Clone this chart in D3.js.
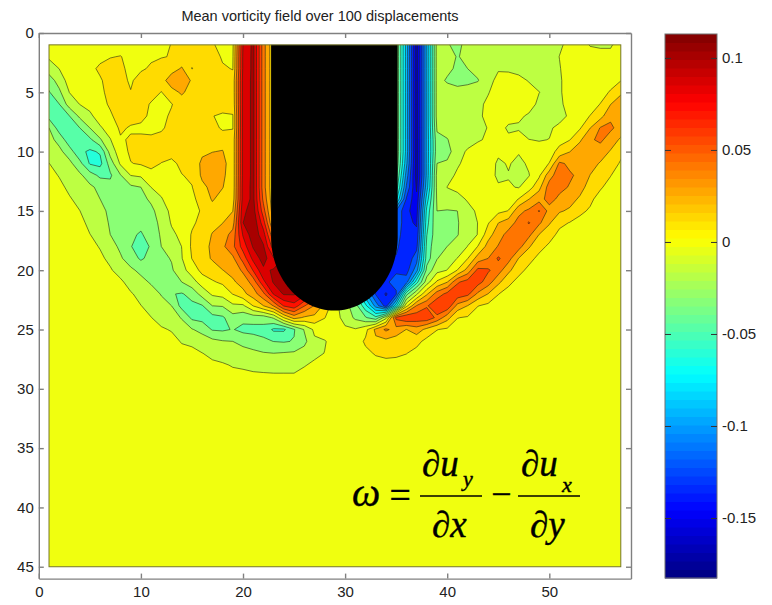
<!DOCTYPE html>
<html>
<head>
<meta charset="utf-8">
<script src="https://cdn.jsdelivr.net/npm/d3@7"></script>
<style>
	html, body {margin: 0; padding: 0; background: #fff;}
	text {font-family: "Liberation Sans", Arial, sans-serif; fill: #222;}
	.c-axis path, .c-axis line {stroke: #808080; stroke-width: 1.4px; fill: none;}
	.c-axis text {font-size: 15px;}
	.c-bar-axis line {stroke: #333; stroke-width: 1px;}
	.c-bar-axis path {display: none;}
	.c-bar-axis text {font-size: 15px;}
	.c-formula text {font-family: "Liberation Serif", "Times New Roman", serif; font-style: italic; fill: #000; stroke: #000; stroke-width: 0.4px;}
</style>
</head>
<body>
<svg id="chart" width="772" height="605"></svg>
<script>
var chartTitle = "Mean vorticity field over 100 displacements";
var xTicks = [0, 10, 20, 30, 40, 50];
var yTicks = [0, 5, 10, 15, 20, 25, 30, 35, 40, 45];
var barTicks = [0.1, 0.05, 0, -0.05, -0.1, -0.15];

var zMin = -0.1826;
var zMax = 0.113;
var contourCount = 20;
var colorCount = 64;

var gridWidth = 57;
var gridHeight = 45;

//Cylinder outline in grid units
var cylinderX = 28.95;
var cylinderR = 6.2;
var cylinderCapY = 17.2;

//Vorticity x 1000, one list per x = 1..57, starting at y = 1.
//A list that stops early is flat zero from there down.
var col01 = [2,-3,-13,-27,-36,-44,-40,-20,-15,-10,-5,-1,0];
var col02 = [3,2,-5,-14,-23,-35,-44,-42,-25,-16,-11,-6,-2,0];
var col03 = [3,4,3,1,-5,-13,-35,-44,-44,-28,-16,-12,-8,-4,-1,0];
var col04 = [3,4,4,3,1,-5,-17,-35,-44,-46,-30,-17,-13,-9,-5,-2,0];
var col05 = [3,5,6,4,3,-1,-8,-20,-38,-52,-51,-28,-17,-14,-11,-8,-5,-2,0];
var col06 = [3,6,12,8,7,6,1,-7,-22,-48,-54,-38,-24,-20,-16,-12,-9,-6,-3,-1,0];
var col07 = [3,9,14,15,13,11,8,1,-6,-14,-28,-37,-30,-24,-23,-22,-20,-14,-8,-4,-1,0];
var col08 = [4,10,13,13,15,15,14,12,8,3,-3,-21,-24,-26,-28,-27,-25,-23,-18,-10,-3,0];
var col09 = [7,6,5,8,10,12,15,8,11,12,9,-5,-23,-27,-30,-32,-33,-34,-28,-17,-10,-4,0];
var col10 = [5,6,8,14,15,16,13,7,12,16,11,-3,-20,-25,-28,-32,-36,-42,-37,-24,-15,-9,-5,-1,0];
var col11 = [5,8,11,16,16,8,7,6,12,17,15,3,-5,-17,-24,-27,-30,-33,-30,-27,-22,-13,-9,-5,-2,0];
var col12 = [6,9,14,17,9,7,7,8,13,17,9,2,-2,-6,-12,-16,-18,-20,-24,-29,-29,-21,-15,-9,-4,-1,0];
var col13 = [10,10,17,34,18,9,11,13,15,15,6,4,2,0,-2,-4,-8,-16,-19,-22,-30,-34,-20,-14,-6,-2,0];
var col14 = [13,14,26,36,27,15,15,15,16,16,13,9,7,5,2,0,-2,-5,-6,-10,-20,-36,-40,-21,-14,-6,-2,0];
var col15 = [14,15,9,22,17,17,16,16,17,18,16,12,9,7,5,7,11,12,10,1,-11,-30,-38,-38,-19,-8,-2,0];
var col16 = [15,15,17,18,18,18,17,17,19,22,27,27,21,14,11,14,18,19,18,14,1,-14,-36,-40,-25,-12,-5,-1,0];
var col17 = [11,15,18,19,19,18,10,15,20,24,30,33,28,26,18,21,25,27,26,17,8,-3,-20,-40,-36,-16,-8,-3,0];
var col18 = [5,8,11,18,19,17,7,7,19,25,30,28,25,18,20,24,31,36,33,24,12,0,-19,-37,-37,-19,-10,-4,-1];
var col19 = [7,8,9,14,14,13,9,9,14,14,14,14,14,16,24,32,45,50,36,29,22,10,-8,-26,-34,-20,-12,-6,-2];
var col20 = [84,86,86,88,88,88,88,88,88,88,88,88,90,90,95,98,85,75,60,42,30,20,-8,-30,-39,-24,-15,-7,-2];
var col21 = [102,102,102,102,102,102,102,102,102,102,102,102,102,102,105,110,108,100,88,70,45,32,10,-28,-40,-27,-17,-8,-3];
var col22 = [45,45,45,45,45,45,45,45,45,45,45,45,45,50,60,75,90,100,105,95,80,50,24,-28,-40,-32,-19,-9,-3];
var col23 = [12,12,12,12,12,12,12,12,12,12,12,12,12,12,14,20,40,60,85,100,100,85,40,-18,-52,-35,-20,-10,-3];
var col24 = [0,0,0,0,0,0,0,0,0,0,0,0,0,0,0,0,60,90,100,100,100,100,70,10,-52,-36,-19,-10,-3];
var col25 = [0,0,0,0,0,0,0,0,0,0,0,0,0,0,0,0,60,90,100,100,100,100,78,30,-36,-34,-18,-10,-3];
var col26 = [0,0,0,0,0,0,0,0,0,0,0,0,0,0,0,0,60,80,90,95,95,90,55,22,-19,-24,-14,-6,-1];
var col27 = [0,0,0,0,0,0,0,0,0,0,0,0,0,0,0,0,40,60,70,70,70,70,38,20,-2,-8,-8,-3,0];
var col28 = [0,0,0,0,0,0,0,0,0,0,0,0,0,0,0,0,20,30,30,30,30,30,20,10,1,-6,-5,-1,0];
var col29 = [0,0,0,0,0,0,0,0,0,0,0,0,0,0,0,0,0,0,0,0,0,0,0,0,0,-1,0];
var col30 = [0,0,0,0,0,0,0,0,0,0,0,0,0,0,0,0,-10,-10,-10,-10,-10,-15,-15,-10,-3,0,0];
var col31 = [0,0,0,0,0,0,0,0,0,0,0,0,0,0,0,0,-60,-60,-60,-60,-60,-50,-28,-23,-4,1,0];
var col32 = [0,0,0,0,0,0,0,0,0,0,0,0,0,0,0,0,-100,-100,-100,-100,-100,-90,-60,-33,5,12,6,1,0];
var col33 = [0,0,0,0,0,0,0,0,0,0,0,0,0,0,0,0,-125,-125,-125,-125,-125,-125,-100,-45,28,21,11,4,0];
var col34 = [0,0,0,0,0,0,0,0,0,0,0,0,0,0,0,0,-125,-125,-125,-125,-125,-140,-130,-10,42,20,13,5,1];
var col35 = [-20,-20,-20,-20,-20,-20,-20,-20,-20,-20,-22,-30,-40,-60,-110,-110,-115,-120,-125,-125,-120,-125,-70,58,33,17,12,5,1];
var col36 = [-85,-85,-85,-85,-85,-85,-85,-85,-85,-85,-90,-100,-110,-125,-135,-135,-135,-135,-135,-130,-115,-40,5,68,24,15,10,3,0];
var col37 = [-160,-160,-160,-160,-160,-160,-160,-160,-160,-160,-160,-160,-155,-150,-145,-140,-135,-128,-115,-100,-55,-8,40,64,32,14,5,1,0];
var col38 = [-90,-90,-90,-90,-90,-90,-90,-90,-90,-90,-90,-90,-85,-72,-60,-55,-50,-45,-42,-30,-12,22,52,65,20,5,1,0];
var col39 = [-14,-14,-14,-14,-14,-14,-14,-18,-24,-25,-20,-15,-16,-18,-20,-22,-24,-22,-21,-10,12,46,66,50,10,2,0];
var col40 = [-19,-14,-16,-22,-13,-12,-12,-13,-21,-27,-17,-10,-5,-10,-21,-28,-28,-20,-10,-5,24,58,66,30,7,2,0];
var col41 = [-23,-21,-23,-26,-14,-13,-12,-11,-10,-9,-7,-3,0,-12,-20,-21,-21,-12,-5,10,52,64,34,10,3,0];
var col42 = [-16,-16,-20,-24,-13,-12,-11,-11,-9,-4,-1,1,2,-3,-12,-13,-9,-5,9,30,60,58,24,8,2,0];
var col43 = [-13,-13,-15,-21,-11,-8,-7,-7,-7,2,3,4,3,2,-2,-5,-5,10,31,58,60,36,10,2,0];
var col44 = [-12,-12,-10,-8,-6,-3,-3,-5,-3,2,3,3,4,3,3,8,18,30,39,56,46,24,6,1,0];
var col45 = [-12,-11,-6,-3,0,2,0,-1,2,-2,-8,-9,-3,2,6,24,33,40,56,46,28,10,3,0];
var col46 = [-12,-12,-7,-1,2,2,-1,-7,-3,1,-4,-6,-4,3,10,32,44,50,45,28,13,4,1,0];
var col47 = [-12,-12,-9,-2,2,1,-3,-7,1,-4,-9,-10,-6,10,35,44,50,45,24,14,5,1,0];
var col48 = [-12,-13,-10,-6,-1,0,-7,-12,-5,0,-3,-6,3,24,42,55,43,26,14,6,2,0];
var col49 = [-12,-12,-12,-9,-5,-8,-12,-13,-6,0,3,7,20,34,55,42,24,14,6,2,0];
var col50 = [-11,-11,-10,-9,-8,-11,-12,-7,-5,4,10,33,46,44,34,26,15,7,2,0];
var col51 = [-7,-5,-6,-7,-7,-8,-10,-2,5,14,42,48,43,36,26,13,6,2,0];
var col52 = [-2,1,1,1,1,0,-3,2,9,24,36,41,38,30,22,9,3,0];
var col53 = [1,2,2,2,2,3,3,8,22,33,36,36,30,22,12,6,2,0];
var col54 = [-6,0,1,1,0,3,10,24,37,37,30,24,18,12,8,3,0];
var col55 = [-7,-1,1,1,4,10,19,40,42,32,23,17,11,5,2,0];
var col56 = [-7,-1,1,4,11,24,36,42,32,23,16,10,5,2,0];
var col57 = [2,2,4,9,22,32,37,33,22,13,8,3,1,0];

var columns = [
	col01,col02,col03,col04,col05,col06,col07,col08,col09,col10,col11,col12,
	col13,col14,col15,col16,col17,col18,col19,col20,col21,col22,col23,col24,
	col25,col26,col27,col28,col29,col30,col31,col32,col33,col34,col35,col36,
	col37,col38,col39,col40,col41,col42,col43,col44,col45,col46,col47,col48,
	col49,col50,col51,col52,col53,col54,col55,col56,col57
];

//Matlab jet colormap, t in 0..1
function jet(t){
	function ch(v){
		return Math.round(255 * Math.max(0, Math.min(1, v)));
	}
	return "rgb(" + ch(Math.min(4 * t - 1.5, -4 * t + 4.5)) + "," +
		ch(Math.min(4 * t - 0.5, -4 * t + 3.5)) + "," +
		ch(Math.min(4 * t + 0.5, -4 * t + 2.5)) + ")";
}

//The bands in the reference sit a touch warmer than their lower level
function zColor(z){
	return jet((z - zMin) / (zMax - zMin) + 0.01);
}

var svg = d3.select("#chart");

//Set up the scales
var xScale = d3.scaleLinear().domain([0, 58]).range([38.8, 631]);
var yScale = d3.scaleLinear().domain([0, 46]).range([33, 578.6]);
var barScale = d3.scaleLinear().domain([zMin, zMax]).range([578, 34]);

svg.append("text")
	.attr("x", 320)
	.attr("y", 21)
	.attr("text-anchor", "middle")
	.style("font-size", "14.5px")
	.text(chartTitle);

svg.append("clipPath")
	.attr("id", "plot-clip")
	.append("rect")
	.attr("x", xScale(1))
	.attr("y", yScale(1))
	.attr("width", xScale(57) - xScale(1))
	.attr("height", yScale(45) - yScale(1));

//Flatten the columns to the row-major grid d3.contours wants
var grid = new Array(gridWidth * gridHeight).fill(0);
columns.forEach(function(col, i){
	col.forEach(function(val, j){
		grid[j * gridWidth + i] = val / 1000;
	});
});

var levels = d3.range(contourCount + 1).map(function(k){
	return zMin + k * (zMax - zMin) / contourCount;
});

var contours = d3.contours()
	.size([gridWidth, gridHeight])
	.thresholds(levels.slice(0, contourCount))(grid);

//A grid value sits at the cell centre, so contour coordinate c is data value c + 0.5
var contourPath = d3.geoPath(d3.geoTransform({
	point: function(x, y){
		this.stream.point(xScale(x + 0.5), yScale(y + 0.5));
	}
}));

var plot = svg.append("g")
	.attr("clip-path", "url(#plot-clip)")
	.append("g")
	.style("filter", "blur(0.45px)");

plot.selectAll("path.c-band")
	.data(contours)
	.enter().append("path")
	.attr("class", "c-band")
	.attr("d", contourPath)
	.attr("fill", function(d){ return zColor(d.value); })
	.attr("stroke", "rgba(35,40,20,0.7)")
	.attr("stroke-width", 0.85);

//Black cylinder over the field
var cylinderLine = d3.line()
	.x(function(d){ return xScale(d[0]); })
	.y(function(d){ return yScale(d[1]); });

var cylinderPoints = [[cylinderX - cylinderR, 0.5]];
d3.range(0, 181, 3).forEach(function(deg){
	var a = deg * Math.PI / 180;
	cylinderPoints.push([cylinderX - cylinderR * Math.cos(a), cylinderCapY + cylinderR * Math.sin(a)]);
});
cylinderPoints.push([cylinderX + cylinderR, 0.5]);

plot.append("path")
	.attr("d", cylinderLine(cylinderPoints) + "Z")
	.attr("fill", "#000");

svg.append("rect")
	.attr("x", xScale(1))
	.attr("y", yScale(1))
	.attr("width", xScale(57) - xScale(1))
	.attr("height", yScale(45) - yScale(1))
	.attr("fill", "none")
	.attr("stroke", "#77772a")
	.attr("stroke-width", 1);

//Draw the axes, ticks pointing in like Matlab
function noLabel(){ return ""; }

svg.append("g")
	.attr("class", "c-axis")
	.attr("transform", "translate(0," + yScale(46) + ")")
	.call(d3.axisBottom(xScale).tickValues(xTicks).tickSizeOuter(0).tickSizeInner(-5).tickPadding(8));

svg.append("g")
	.attr("class", "c-axis")
	.attr("transform", "translate(0," + yScale(0) + ")")
	.call(d3.axisTop(xScale).tickValues(xTicks).tickFormat(noLabel).tickSizeOuter(0).tickSizeInner(-5));

svg.append("g")
	.attr("class", "c-axis")
	.attr("transform", "translate(" + xScale(0) + ",0)")
	.call(d3.axisLeft(yScale).tickValues(yTicks).tickSizeOuter(0).tickSizeInner(-5).tickPadding(5));

svg.append("g")
	.attr("class", "c-axis")
	.attr("transform", "translate(" + xScale(58) + ",0)")
	.call(d3.axisRight(yScale).tickValues(yTicks).tickFormat(noLabel).tickSizeOuter(0).tickSizeInner(-5));

//Colorbar
var barLeft = 665;
var barRight = 717;
var barStep = (zMax - zMin) / colorCount;

svg.append("g")
	.selectAll("rect")
	.data(d3.range(colorCount))
	.enter().append("rect")
	.attr("x", barLeft)
	.attr("y", function(d){ return barScale(zMin + (d + 1) * barStep); })
	.attr("width", barRight - barLeft)
	.attr("height", function(d){ return barScale(zMin + d * barStep) - barScale(zMin + (d + 1) * barStep) + 0.5; })
	.attr("fill", function(d){ return jet((d + 0.5) / colorCount); });

svg.append("rect")
	.attr("x", barLeft)
	.attr("y", barScale(zMax))
	.attr("width", barRight - barLeft)
	.attr("height", barScale(zMin) - barScale(zMax))
	.attr("fill", "none")
	.attr("stroke", "#707070")
	.attr("stroke-width", 1);

svg.append("g")
	.attr("class", "c-bar-axis")
	.attr("transform", "translate(" + barRight + ",0)")
	.call(d3.axisRight(barScale).tickValues(barTicks).tickFormat(String).tickSizeInner(-6).tickSizeOuter(0).tickPadding(5));

svg.append("g")
	.attr("class", "c-bar-axis")
	.attr("transform", "translate(" + barLeft + ",0)")
	.call(d3.axisLeft(barScale).tickValues(barTicks).tickFormat(noLabel).tickSizeInner(-6).tickSizeOuter(0));

//Formula
var formula = svg.append("g").attr("class", "c-formula");

function formulaText(str, x, y, size){
	formula.append("text")
		.attr("x", x)
		.attr("y", y)
		.style("font-size", size + "px")
		.text(str);
}

function formulaRule(x1, x2, y){
	formula.append("line")
		.attr("x1", x1)
		.attr("x2", x2)
		.attr("y1", y)
		.attr("y2", y)
		.attr("stroke", "#000")
		.attr("stroke-width", 1.4);
}

formulaText("\u03c9", 352, 506, 40);
formulaText("=", 387, 508, 38);
formulaText("\u2202u", 422, 476, 37);
formulaText("y", 463, 486, 22);
formulaRule(420, 482, 496);
formulaText("\u2202x", 432, 537, 37);
formulaText("\u2212", 489, 506, 36);
formulaText("\u2202u", 521, 476, 37);
formulaText("x", 562, 492, 22);
formulaRule(518, 580, 496);
formulaText("\u2202y", 530, 537, 37);
</script>
</body>
</html>
